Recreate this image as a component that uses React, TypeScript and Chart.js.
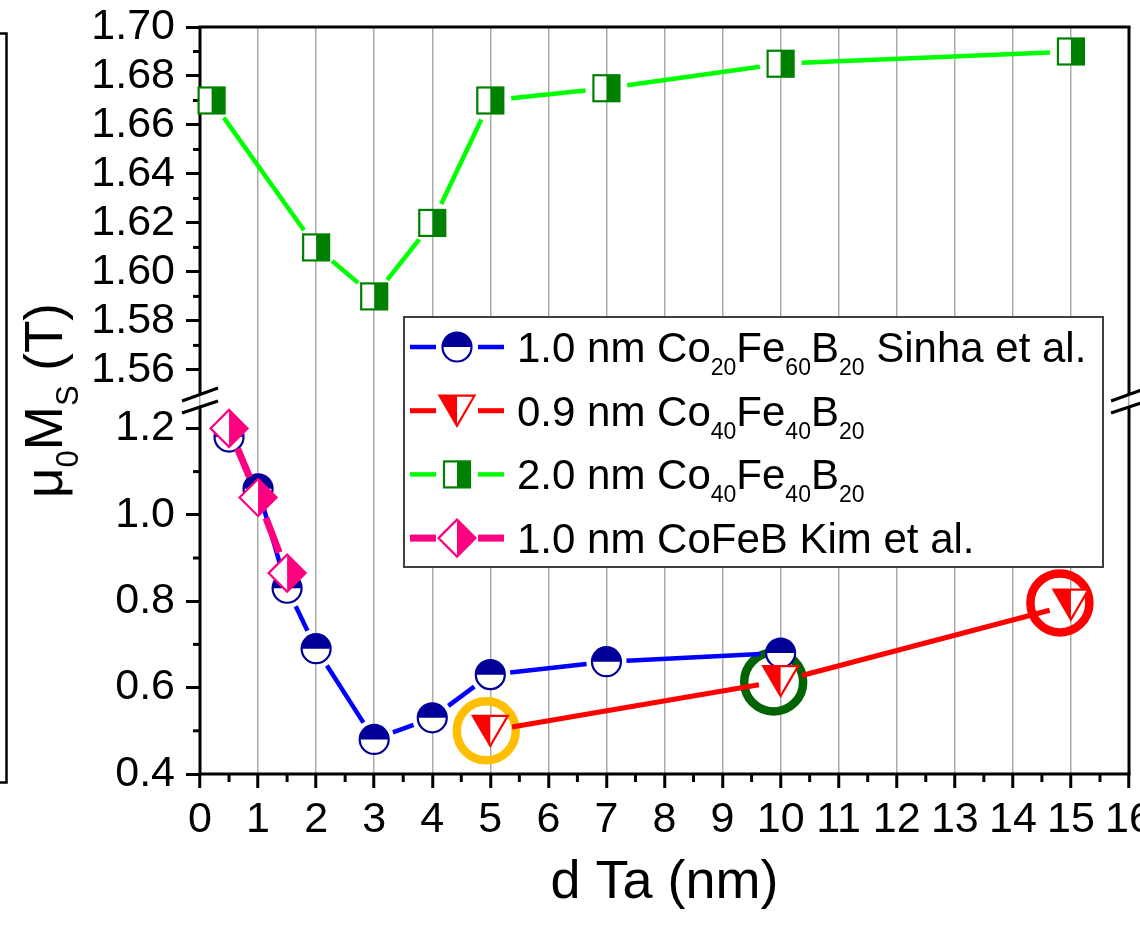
import React, { useEffect, useRef } from 'react';
import { Chart, registerables } from 'chart.js';

Chart.register(...registerables);

const CANVAS_W = 1170;
const CANVAS_H = 928;
const FONT = "'Liberation Sans', Arial, Helvetica, sans-serif";

// ---------- data ----------
const sinhaX = [0.5, 1, 1.5, 2, 3, 4, 5, 7, 10];
const sinhaY = [1.18, 1.06, 0.83, 0.69, 0.48, 0.53, 0.63, 0.66, 0.68];

const thinCo40X = [5, 10, 15];
const thinCo40Y = [0.5, 0.615, 0.792];

const thickCo40X = [0.2, 2, 3, 4, 5, 7, 10, 15];
const thickCo40Y = [1.67, 1.61, 1.59, 1.62, 1.67, 1.675, 1.685, 1.69];

const kimX = [0.5, 1, 1.5];
const kimY = [1.2, 1.04, 0.865];

const highlightX = [4.93, 9.88, 14.81];
const highlightY = [0.5, 0.613, 0.796];
const highlightColors = ['#FFBF00', '#006400', '#FF0000'];

const xTicks = [0, 1, 2, 3, 4, 5, 6, 7, 8, 9, 10, 11, 12, 13, 14, 15, 16];
const xMinorTicks = [0.5, 1.5, 2.5, 3.5, 4.5, 5.5, 6.5, 7.5, 8.5, 9.5, 10.5, 11.5, 12.5, 13.5, 14.5, 15.5];
const yTopTicks = [1.56, 1.58, 1.6, 1.62, 1.64, 1.66, 1.68, 1.7];
const yTopMinorTicks = [1.57, 1.59, 1.61, 1.63, 1.65, 1.67, 1.69];
const yBotTicks = [0.4, 0.6, 0.8, 1.0, 1.2];
const yBotMinorTicks = [0.5, 0.7, 0.9, 1.1];

const legendLabels: [string, boolean][][] = [
  [['1.0 nm Co', false], ['20', true], ['Fe', false], ['60', true], ['B', false], ['20', true], [' Sinha et al.', false]],
  [['0.9 nm Co', false], ['40', true], ['Fe', false], ['40', true], ['B', false], ['20', true]],
  [['2.0 nm Co', false], ['40', true], ['Fe', false], ['40', true], ['B', false], ['20', true]],
  [['1.0 nm CoFeB Kim et al.', false]],
];

const yTitle: [string, boolean][] = [['\u03BC', false], ['0', true], ['M', false], ['S', true], [' (T)', false]];
const xTitle = 'd Ta (nm)';

// ---------- styles ----------
const series = [
  { xs: sinhaX, ys: sinhaY, axis: 'yBot', marker: 'circle', line: '#0000FF', lw: 4.5, gap: 20 },
  { xs: thinCo40X, ys: thinCo40Y, axis: 'yBot', marker: 'triangle', line: '#FF0000', lw: 5, gap: 22 },
  { xs: thickCo40X, ys: thickCo40Y, axis: 'yTop', marker: 'square', line: '#00FF00', lw: 4.5, gap: 21 },
  { xs: kimX, ys: kimY, axis: 'yBot', marker: 'diamond', line: '#FF0080', lw: 7, gap: 22 },
];

function drawMarker(ctx: CanvasRenderingContext2D, kind: string, x: number, y: number) {
  ctx.save();
  ctx.lineWidth = 2.2;
  ctx.lineJoin = 'miter';
  if (kind === 'circle') {
    const r = 14.5;
    const c = '#000099';
    ctx.beginPath(); ctx.arc(x, y, r, 0, Math.PI * 2); ctx.fillStyle = '#fff'; ctx.fill();
    ctx.beginPath(); ctx.arc(x, y, r, Math.PI, Math.PI * 2); ctx.closePath(); ctx.fillStyle = c; ctx.fill();
    ctx.beginPath(); ctx.arc(x, y, r, 0, Math.PI * 2); ctx.strokeStyle = c; ctx.stroke();
  } else if (kind === 'triangle') {
    const w = 17.5, h = 15;
    const c = '#FF0000';
    ctx.beginPath(); ctx.moveTo(x - w, y - h); ctx.lineTo(x + w, y - h); ctx.lineTo(x, y + h); ctx.closePath();
    ctx.fillStyle = '#fff'; ctx.fill();
    ctx.beginPath(); ctx.moveTo(x - w, y - h); ctx.lineTo(x, y - h); ctx.lineTo(x, y + h); ctx.closePath();
    ctx.fillStyle = c; ctx.fill();
    ctx.beginPath(); ctx.moveTo(x - w, y - h); ctx.lineTo(x + w, y - h); ctx.lineTo(x, y + h); ctx.closePath();
    ctx.strokeStyle = c; ctx.stroke();
  } else if (kind === 'square') {
    const s = 13;
    const c = '#008000';
    ctx.fillStyle = '#fff'; ctx.fillRect(x - s, y - s, 2 * s, 2 * s);
    ctx.fillStyle = c; ctx.fillRect(x, y - s, s, 2 * s);
    ctx.strokeStyle = c; ctx.strokeRect(x - s, y - s, 2 * s, 2 * s);
  } else if (kind === 'diamond') {
    const d = 18.5;
    const c = '#FF0080';
    ctx.beginPath(); ctx.moveTo(x, y - d); ctx.lineTo(x + d, y); ctx.lineTo(x, y + d); ctx.lineTo(x - d, y); ctx.closePath();
    ctx.fillStyle = '#fff'; ctx.fill();
    ctx.beginPath(); ctx.moveTo(x, y - d); ctx.lineTo(x + d, y); ctx.lineTo(x, y + d); ctx.closePath();
    ctx.fillStyle = c; ctx.fill();
    ctx.beginPath(); ctx.moveTo(x, y - d); ctx.lineTo(x + d, y); ctx.lineTo(x, y + d); ctx.lineTo(x - d, y); ctx.closePath();
    ctx.strokeStyle = c; ctx.stroke();
  }
  ctx.restore();
}

function line(ctx: CanvasRenderingContext2D, x1: number, y1: number, x2: number, y2: number) {
  ctx.beginPath(); ctx.moveTo(x1, y1); ctx.lineTo(x2, y2); ctx.stroke();
}

function richText(ctx: CanvasRenderingContext2D, segs: [string, boolean][], x: number, base: number,
  main: number, sub: number, off: number, measureOnly = false) {
  let cx = x;
  for (const [t, isSub] of segs) {
    ctx.font = `${isSub ? sub : main}px ${FONT}`;
    if (!measureOnly) ctx.fillText(t, cx, base + (isSub ? off : 0));
    cx += ctx.measureText(t).width;
  }
  return cx - x;
}

const originPlugin = {
  id: 'originStyle',
  beforeDatasetsDraw(chart: any) {
    const ctx: CanvasRenderingContext2D = chart.ctx;
    const { x, yTop, yBot } = chart.scales;
    const ca = chart.chartArea;
    ctx.save();
    ctx.strokeStyle = '#000';
    ctx.lineWidth = 3;
    ctx.lineCap = 'butt';
    // minor ticks
    for (const v of xMinorTicks) {
      const px = x.getPixelForValue(v);
      line(ctx, px, ca.bottom, px, ca.bottom + 8);
    }
    for (const v of yTopMinorTicks) {
      const py = yTop.getPixelForValue(v);
      line(ctx, ca.left, py, ca.left - 7, py);
    }
    for (const v of yBotMinorTicks) {
      const py = yBot.getPixelForValue(v);
      line(ctx, ca.left, py, ca.left - 7, py);
    }
    // frame with axis break
    const breakY = yTop.bottom;
    const upEnd = breakY - 6.5;
    const lowStart = breakY + 6;
    ctx.lineCap = 'square';
    line(ctx, ca.left, ca.top, ca.right, ca.top);
    line(ctx, ca.left, ca.bottom, ca.right, ca.bottom);
    ctx.lineCap = 'butt';
    line(ctx, ca.left, ca.top, ca.left, upEnd);
    line(ctx, ca.left, lowStart, ca.left, ca.bottom);
    line(ctx, ca.right, ca.top, ca.right, upEnd);
    line(ctx, ca.right, lowStart, ca.right, ca.bottom);
    for (const ax of [ca.left, ca.right]) {
      line(ctx, ax - 18, upEnd + 6.5, ax + 18, upEnd - 6.5);
      line(ctx, ax - 18, lowStart + 6, ax + 18, lowStart - 6);
    }
    // highlight rings
    ctx.lineWidth = 8.5;
    highlightX.forEach((hx, i) => {
      ctx.strokeStyle = highlightColors[i];
      ctx.beginPath();
      ctx.arc(x.getPixelForValue(hx), yBot.getPixelForValue(highlightY[i]), 29.5, 0, Math.PI * 2);
      ctx.stroke();
    });
    ctx.restore();
  },
  afterDatasetsDraw(chart: any) {
    const ctx: CanvasRenderingContext2D = chart.ctx;
    series.forEach((s, i) => {
      const pts = chart.getDatasetMeta(i).data;
      ctx.save();
      ctx.strokeStyle = s.line;
      ctx.lineWidth = s.lw;
      ctx.lineCap = 'butt';
      for (let j = 0; j < pts.length - 1; j++) {
        const a = pts[j], b = pts[j + 1];
        const dx = b.x - a.x, dy = b.y - a.y;
        const len = Math.hypot(dx, dy);
        if (len <= 2 * s.gap) continue;
        const ux = dx / len, uy = dy / len;
        line(ctx, a.x + ux * s.gap, a.y + uy * s.gap, b.x - ux * s.gap, b.y - uy * s.gap);
      }
      ctx.restore();
      for (const p of pts) drawMarker(ctx, s.marker, p.x, p.y);
    });
  },
  afterDraw(chart: any) {
    const ctx: CanvasRenderingContext2D = chart.ctx;
    const ca = chart.chartArea;
    ctx.save();
    // fragment of neighbouring panel frame
    ctx.strokeStyle = '#000';
    ctx.lineWidth = 2.5;
    ctx.beginPath();
    ctx.moveTo(0, 33.5); ctx.lineTo(6.5, 33.5); ctx.lineTo(6.5, 782.5); ctx.lineTo(0, 782.5);
    ctx.stroke();

    // legend
    const lx = 404, ly = 317, lw = 699, lh = 250;
    ctx.fillStyle = '#fff';
    ctx.fillRect(lx, ly, lw, lh);
    ctx.strokeStyle = '#404040';
    ctx.lineWidth = 2;
    ctx.strokeRect(lx, ly, lw, lh);
    ctx.textBaseline = 'alphabetic';
    ctx.textAlign = 'left';
    series.forEach((s, i) => {
      const cy = 347 + i * 63.7;
      ctx.save();
      ctx.strokeStyle = s.line;
      ctx.lineWidth = s.lw;
      line(ctx, 410, cy, 436, cy);
      line(ctx, 478, cy, 504, cy);
      ctx.restore();
      drawMarker(ctx, s.marker, 457, cy);
      ctx.fillStyle = '#000';
      richText(ctx, legendLabels[i], 517, cy + 15, 42, 23, 13);
    });

    // y title
    ctx.fillStyle = '#000';
    ctx.save();
    ctx.translate(62, (ca.top + ca.bottom) / 2);
    ctx.rotate(-Math.PI / 2);
    const w = richText(ctx, yTitle, 0, 0, 53, 31, 16, true);
    richText(ctx, yTitle, -w / 2, 0, 53, 31, 16);
    ctx.restore();

    // x title
    ctx.font = `54px ${FONT}`;
    ctx.textAlign = 'center';
    ctx.fillText(xTitle, (ca.left + ca.right) / 2, 898);
    ctx.restore();
  },
};

const tickFont = { family: FONT, size: 43 };

const fixY = (sc: any) => {
  sc.width = 200;
  sc.paddingTop = 0;
  sc.paddingBottom = 0;
};

export default function App() {
  const ref = useRef<HTMLCanvasElement>(null);
  useEffect(() => {
    const canvas = ref.current!;
    const chart = new Chart(canvas, {
      type: 'line',
      data: {
        datasets: series.map((s) => ({
          data: s.xs.map((xv, j) => ({ x: xv, y: s.ys[j] })),
          yAxisID: s.axis,
          showLine: false,
          pointRadius: 0,
          pointHoverRadius: 0,
          borderColor: s.line,
        })),
      },
      options: {
        responsive: false,
        animation: false,
        devicePixelRatio: 1,
        events: [],
        layout: { padding: { top: 27, right: CANVAS_W - 1129, left: 0, bottom: 0 } },
        plugins: { legend: { display: false }, tooltip: { enabled: false }, title: { display: false } },
        scales: {
          x: {
            type: 'linear',
            position: 'bottom',
            min: 0,
            max: 16,
            afterBuildTicks: (sc: any) => { sc.ticks = xTicks.map((v) => ({ value: v })); },
            afterFit: (sc: any) => { sc.height = CANVAS_H - 774; sc.paddingLeft = 0; sc.paddingRight = 0; },
            ticks: { font: tickFont, color: '#000', padding: 6, autoSkip: false, maxRotation: 0, callback: (v: any) => String(v) },
            grid: { color: '#ababab', lineWidth: 1.5, drawTicks: true, tickLength: 14, tickWidth: 3, tickColor: '#000' },
            border: { display: false },
          },
          yTop: {
            type: 'linear',
            position: 'left',
            stack: 'ms',
            stackWeight: 374,
            weight: 2,
            min: 1.5473,
            max: 1.7,
            afterBuildTicks: (sc: any) => { sc.ticks = yTopTicks.map((v) => ({ value: v })); },
            afterFit: fixY,
            ticks: { font: tickFont, color: '#000', padding: 11, autoSkip: false, callback: (v: any) => Number(v).toFixed(2) },
            grid: { drawOnChartArea: false, drawTicks: true, tickLength: 14, tickWidth: 3, tickColor: '#000' },
            border: { display: false },
          },
          yBot: {
            type: 'linear',
            position: 'left',
            stack: 'ms',
            stackWeight: 373,
            weight: 1,
            min: 0.4,
            max: 1.2634,
            afterBuildTicks: (sc: any) => { sc.ticks = yBotTicks.map((v) => ({ value: v })); },
            afterFit: fixY,
            ticks: { font: tickFont, color: '#000', padding: 11, autoSkip: false, callback: (v: any) => Number(v).toFixed(1) },
            grid: { drawOnChartArea: false, drawTicks: true, tickLength: 14, tickWidth: 3, tickColor: '#000' },
            border: { display: false },
          },
        },
      } as any,
      plugins: [originPlugin],
    });
    return () => chart.destroy();
  }, []);
  return (
    <div style={{ position: 'absolute', left: 0, top: 0, width: 1140, height: 928, overflow: 'hidden', background: '#fff' }}>
      <canvas ref={ref} width={CANVAS_W} height={CANVAS_H} style={{ display: 'block', width: CANVAS_W, height: CANVAS_H }} />
    </div>
  );
}
